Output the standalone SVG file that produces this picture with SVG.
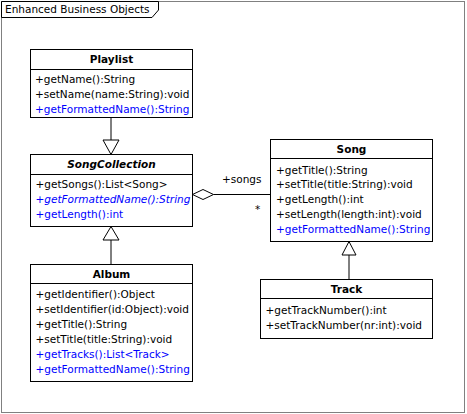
<svg xmlns="http://www.w3.org/2000/svg" width="467" height="414" viewBox="0 0 467 414">
<style>
text{font-family:"DejaVu Sans","Liberation Sans",sans-serif;font-size:10.5px;fill:#000}
.t{font-weight:bold;text-anchor:middle}
.b{fill:#0000ff}
.i{font-style:italic}
.box{fill:#fff;stroke:#000;stroke-width:1}
.ln{stroke:#000;stroke-width:1;fill:none}
.tri{fill:#fff;stroke:#000;stroke-width:1}
</style>
<rect width="467" height="414" fill="#fff"/>
<g id="frame">
<rect x="1.5" y="1.5" width="463" height="411" fill="none" stroke="#808080" stroke-width="1"/>
<path d="M1.5,1.5 H158.5 V10 L152,17.5 H1.5 Z" fill="#fff" stroke="#000" stroke-width="1"/>
<text x="5" y="13">Enhanced Business Objects</text>
</g>
<g id="connectors">
<line class="ln" x1="111" y1="117.5" x2="111" y2="140"/>
<polygon class="tri" points="103,140 119,140 111,154.5"/>
<line class="ln" x1="111" y1="240" x2="111" y2="264.5"/>
<polygon class="tri" points="103,240 119,240 111,226.5"/>
<line class="ln" x1="349" y1="255" x2="349" y2="279.5"/>
<polygon class="tri" points="342,255 356,255 349,241.5"/>
<line class="ln" x1="213.5" y1="194.5" x2="270.5" y2="194.5"/>
<polygon class="tri" points="192.5,194.5 203,189.5 213.5,194.5 203,199.5"/>
<text x="222" y="183">+songs</text>
<text x="255" y="213">*</text>
</g>
<g id="Playlist">
<rect class="box" x="30.5" y="49.5" width="162" height="68"/>
<line class="ln" x1="30.5" y1="69.5" x2="192.5" y2="69.5"/>
<text class="t" x="111.5" y="63">Playlist</text>
<text x="35" y="83">+getName():String</text>
<text x="35" y="98">+setName(name:String):void</text>
<text class="b" x="35" y="113">+getFormattedName():String</text>
</g>
<g id="SongCollection">
<rect class="box" x="30.5" y="154.5" width="162" height="72"/>
<line class="ln" x1="30.5" y1="174.5" x2="192.5" y2="174.5"/>
<text class="t i" x="111.5" y="168">SongCollection</text>
<text x="35.5" y="188">+getSongs():List&lt;Song&gt;</text>
<text class="b i" x="35.5" y="203">+getFormattedName():String</text>
<text class="b" x="35.5" y="218">+getLength():int</text>
</g>
<g id="Album">
<rect class="box" x="30.5" y="264.5" width="162" height="117"/>
<line class="ln" x1="30.5" y1="283.5" x2="192.5" y2="283.5"/>
<text class="t" x="111.5" y="278">Album</text>
<text x="35.5" y="298">+getIdentifier():Object</text>
<text x="35.5" y="313">+setIdentifier(id:Object):void</text>
<text x="35.5" y="328">+getTitle():String</text>
<text x="35.5" y="343">+setTitle(title:String):void</text>
<text class="b" x="35.5" y="358">+getTracks():List&lt;Track&gt;</text>
<text class="b" x="35.5" y="373">+getFormattedName():String</text>
</g>
<g id="Song">
<rect class="box" x="270.5" y="139.5" width="162" height="102"/>
<line class="ln" x1="270.5" y1="158.5" x2="432.5" y2="158.5"/>
<text class="t" x="351.5" y="153">Song</text>
<text x="276" y="174">+getTitle():String</text>
<text x="276" y="188">+setTitle(title:String):void</text>
<text x="276" y="203">+getLength():int</text>
<text x="276" y="218">+setLength(length:int):void</text>
<text class="b" x="276" y="233">+getFormattedName():String</text>
</g>
<g id="Track">
<rect class="box" x="260.5" y="279.5" width="172" height="59"/>
<line class="ln" x1="260.5" y1="298.5" x2="432.5" y2="298.5"/>
<text class="t" x="346.5" y="293">Track</text>
<text x="265.5" y="314">+getTrackNumber():int</text>
<text x="265.5" y="329">+setTrackNumber(nr:int):void</text>
</g>
</svg>
